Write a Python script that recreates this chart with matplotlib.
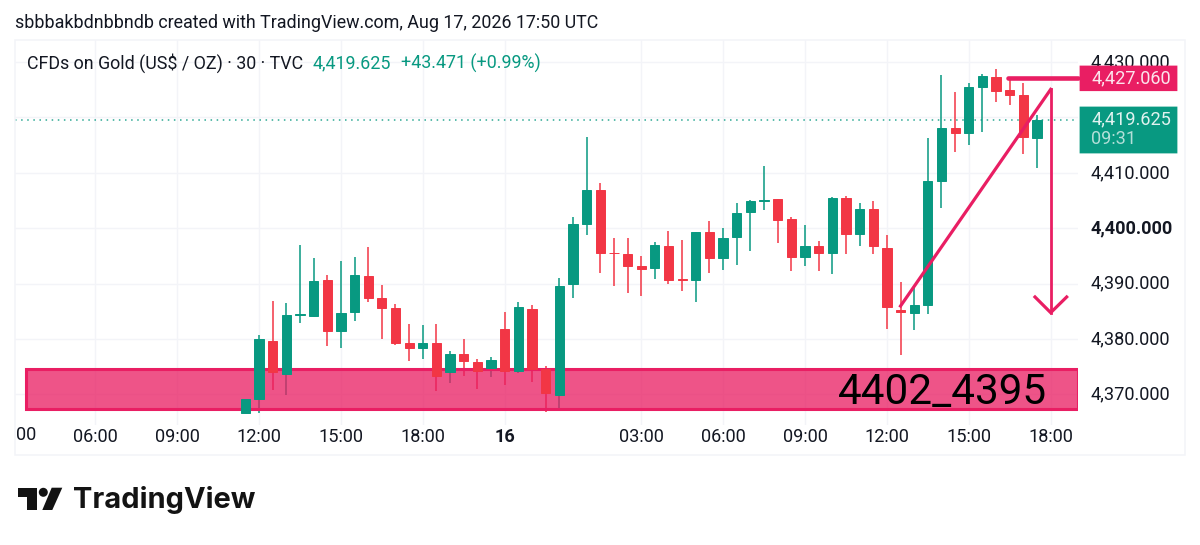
import matplotlib
matplotlib.use('Agg')
import matplotlib.pyplot as plt
from matplotlib.patches import Rectangle, Polygon, Circle, FancyBboxPatch
from matplotlib.colors import to_rgba
from matplotlib.transforms import ScaledTranslation
import numpy as np

plt.rcParams['font.family'] = ['Roboto', 'DejaVu Sans']

# 30 minute bars, bar 0 is the 12:00 bar on the 15th
first_bar = -1
opens = [4366.72, 4369.19, 4379.60, 4373.64, 4384.40, 4384.17, 4390.60, 4381.47, 4384.84, 4391.34,
         4387.42, 4385.68, 4379.24, 4378.46, 4379.24, 4374.13, 4377.26, 4375.93, 4374.73, 4381.89,
         4374.20, 4385.50, 4374.61, 4369.91, 4389.89, 4400.72, 4406.97, 4395.60, 4395.36, 4393.19,
         4392.90, 4396.75, 4390.80, 4390.67, 4399.33, 4394.64, 4398.37, 4402.94, 4404.95, 4405.23,
         4401.60, 4394.80, 4396.75, 4395.50, 4405.40, 4398.90, 4403.40, 4396.44, 4385.20, 4384.70,
         4386.20, 4408.60, 4418.04, 4417.20, 4425.50, 4427.30, 4424.95, 4424.00, 4416.35]
highs = [4369.19, 4380.74, 4386.94, 4386.46, 4396.93, 4394.58, 4391.52, 4394.16, 4394.77, 4396.69,
         4389.83, 4386.34, 4382.79, 4382.50, 4382.79, 4377.92, 4379.96, 4376.34, 4376.83, 4384.84,
         4386.76, 4386.22, 4375.21, 4390.97, 4401.98, 4416.42, 4408.12, 4398.31, 4398.19, 4395.00,
         4397.59, 4399.50, 4397.83, 4399.40, 4401.25, 4400.00, 4404.50, 4405.17, 4411.30, 4405.30,
         4402.10, 4400.60, 4397.77, 4405.60, 4405.83, 4404.60, 4404.90, 4398.80, 4390.30, 4389.30,
         4416.36, 4427.66, 4424.65, 4426.20, 4427.85, 4428.70, 4427.20, 4426.20, 4420.45]
lows = [4366.72, 4366.72, 4370.81, 4369.91, 4382.85, 4384.05, 4378.82, 4378.34, 4383.33, 4386.76,
        4380.08, 4379.00, 4376.00, 4376.35, 4370.64, 4372.02, 4373.40, 4370.94, 4373.22, 4371.72,
        4373.90, 4372.20, 4366.91, 4367.56, 4387.36, 4398.79, 4391.87, 4389.64, 4388.32, 4387.84,
        4390.91, 4390.01, 4388.74, 4386.70, 4391.87, 4392.41, 4393.38, 4395.84, 4403.30, 4397.30,
        4392.30, 4393.13, 4392.34, 4391.70, 4395.30, 4396.87, 4395.30, 4381.76, 4377.20, 4381.60,
        4384.50, 4403.60, 4413.80, 4415.00, 4417.40, 4422.85, 4422.25, 4413.35, 4410.80]
closes = [4369.19, 4379.96, 4374.00, 4384.35, 4384.45, 4390.55, 4381.47, 4384.72, 4391.58, 4387.36,
          4385.68, 4379.36, 4378.46, 4379.36, 4373.40, 4377.26, 4376.00, 4374.31, 4376.23, 4374.30,
          4385.80, 4374.61, 4370.34, 4389.59, 4400.72, 4406.97, 4395.54, 4395.50, 4393.13, 4392.71,
          4396.93, 4390.73, 4390.70, 4399.27, 4394.64, 4398.25, 4402.76, 4404.87, 4405.05, 4401.57,
          4394.77, 4396.80, 4395.50, 4405.47, 4398.90, 4403.40, 4396.80, 4385.80, 4384.90, 4386.16,
          4408.50, 4418.10, 4417.20, 4425.50, 4427.50, 4424.70, 4424.05, 4416.54, 4419.55]

price_ticks = [4370, 4380, 4390, 4400, 4410, 4420, 4430]
price_labels = ['4,370.000', '4,380.000', '4,390.000', '4,400.000', '4,410.000', '', '4,430.000']
time_ticks = [-12, -6, 0, 6, 12, 18, 28, 34, 40, 46, 52, 58]
time_labels = ['06:00', '09:00', '12:00', '15:00', '18:00', '16', '03:00', '06:00', '09:00', '12:00', '15:00', '18:00']

zone_top = 4374.6
zone_bottom = 4367.4
last_price = 4419.55
line_price = 4427.06
trend_x = [47, 58]
trend_y = [4385.97, 4425.08]
arrow_x = [58, 58]
arrow_y = [4425.08, 4384.77]
head_x = [56.85, 58, 59.17]
head_y = [4387.6, 4384.77, 4387.6]

GREEN = '#089981'
RED = '#F23645'
PINK = '#E91E63'
GRID = '#F3F4F8'
TEXT = '#131722'
W, H = 1200, 545


def fx(x):
    return x / W


def fy(y):
    return 1 - y / H


fig = plt.figure(figsize=(12, 5.45), dpi=100, facecolor='white')
ax = fig.add_axes([fx(15), fy(425), fx(1063), 385 / H])
ax.set_xlim(-17.875, 60.0)
ax.set_ylim(4364.49, 4433.99)
for s in ax.spines.values():
    s.set_visible(False)

ax.set_axisbelow(True)
ax.grid(color=GRID, linewidth=1.0)
ax.yaxis.tick_right()
ax.set_yticks(price_ticks, price_labels)
ax.set_xticks(time_ticks, time_labels)
ax.tick_params(axis='y', length=0, pad=9.0, labelsize=13.1, labelcolor=TEXT)
ax.tick_params(axis='x', length=0, pad=2.2, labelsize=13.1, labelcolor=TEXT)
nudge = ScaledTranslation(0, 2 / 100, fig.dpi_scale_trans)
for lab in ax.get_yticklabels():
    lab.set_transform(lab.get_transform() + nudge)
    if lab.get_text() == '4,400.000':
        lab.set_fontweight('bold')
for lab in ax.get_xticklabels():
    if lab.get_text() == '16':
        lab.set_fontweight('bold')
ax.text(0.0012, -0.0255, '00', transform=ax.transAxes, fontsize=13.1, color=TEXT, va='center', ha='left')

# support zone, wicks show faintly through it
ax.add_patch(Rectangle((-17.1, zone_bottom), 77.1, zone_top - zone_bottom, facecolor=to_rgba(PINK, 0.76),
                       edgecolor=PINK, linewidth=2.2, zorder=2))
ax.text(50.1, (zone_top + zone_bottom) / 2 - 0.65, '4402_4395', fontsize=30.4, color='black', ha='center', va='center', zorder=6)

# candles
x = np.arange(len(opens)) + first_bar
o = np.array(opens)
c = np.array(closes)
colors = [GREEN if b >= a else RED for a, b in zip(opens, closes)]
ax.vlines(x, lows, highs, colors=colors, linewidth=1.1, zorder=1.5)
ax.bar(x, np.abs(c - o), bottom=np.minimum(o, c), width=0.68, color=colors, edgecolor=colors, linewidth=0.7, zorder=4)

ax.axhline(last_price, color=GREEN, linewidth=1.1, linestyle=(0, (1, 3)), alpha=0.85, zorder=3)

# drawings
ax.plot([54.85, 60], [line_price, line_price], color=PINK, linewidth=3.3, solid_capstyle='round', zorder=5, clip_on=False)
ax.plot(trend_x, trend_y, color=PINK, linewidth=2.3, zorder=5)
ax.plot(arrow_x, arrow_y, color=PINK, linewidth=2.0, zorder=5)
ax.plot(head_x, head_y, color=PINK, linewidth=2.3, zorder=5)

# outer frame
fig.add_artist(Rectangle((fx(15), fy(455)), fx(1170), 415 / H, transform=fig.transFigure, fill=False,
                         edgecolor=GRID, linewidth=1.1, zorder=1))

# price labels on the axis
fig.add_artist(FancyBboxPatch((fx(1081), fy(89.7)), fx(95), 22.7 / H, transform=fig.transFigure,
                              boxstyle='round,pad=0', facecolor=PINK, edgecolor=PINK, linewidth=2, zorder=2))
fig.add_artist(FancyBboxPatch((fx(1081), fy(152)), fx(95), 44 / H, transform=fig.transFigure,
                              boxstyle='round,pad=0', facecolor=GREEN, edgecolor=GREEN, linewidth=2, zorder=2))
fig.text(fx(1091), fy(78), '4,427.060', color='#FCE4EC', fontsize=13.1, va='center', zorder=4)
fig.text(fx(1091), fy(119), '4,419.625', color='#E0F2EF', fontsize=13.1, va='center', zorder=4)
fig.text(fx(1091), fy(139.5), '09:31', color='#B2DFD8', fontsize=13.1, va='center', zorder=4)

# header
fig.text(fx(15), fy(23), 'sbbbakbdnbbndb created with TradingView.com, Aug 17, 2026 17:50 UTC',
         color=TEXT, fontsize=12.88, va='center')
fig.text(fx(27), fy(63), 'CFDs on Gold (US$ / OZ) · 30 · TVC', color=TEXT, fontsize=12.88, va='center')
fig.text(fx(313), fy(63), '4,419.625', color=GREEN, fontsize=12.88, va='center')
fig.text(fx(401), fy(63), '+43.471 (+0.99%)', color=GREEN, fontsize=12.88, va='center')

# logo
fig.add_artist(Polygon([(fx(18.3), fy(487.7)), (fx(36.7), fy(487.7)), (fx(36.7), fy(510)), (fx(27.3), fy(510)),
                        (fx(27.3), fy(496.7)), (fx(18.3), fy(496.7))], closed=True, transform=fig.transFigure,
                       facecolor='#131313', edgecolor='none'))
fig.add_artist(Polygon([(fx(51.7), fy(487.7)), (fx(62.3), fy(487.7)), (fx(52.3), fy(510)), (fx(42.3), fy(510))],
                       closed=True, transform=fig.transFigure, facecolor='#131313', edgecolor='none'))
fig.add_artist(Circle((43.3, H - 492.3), 4.5, transform=None, facecolor='#131313', edgecolor='none'))
fig.text(fx(73), fy(499.5), 'TradingView', color='#131313', fontsize=20.9, fontweight='bold', va='center', family=['Inter', 'DejaVu Sans'])

fig.savefig('out.png', dpi=100)
